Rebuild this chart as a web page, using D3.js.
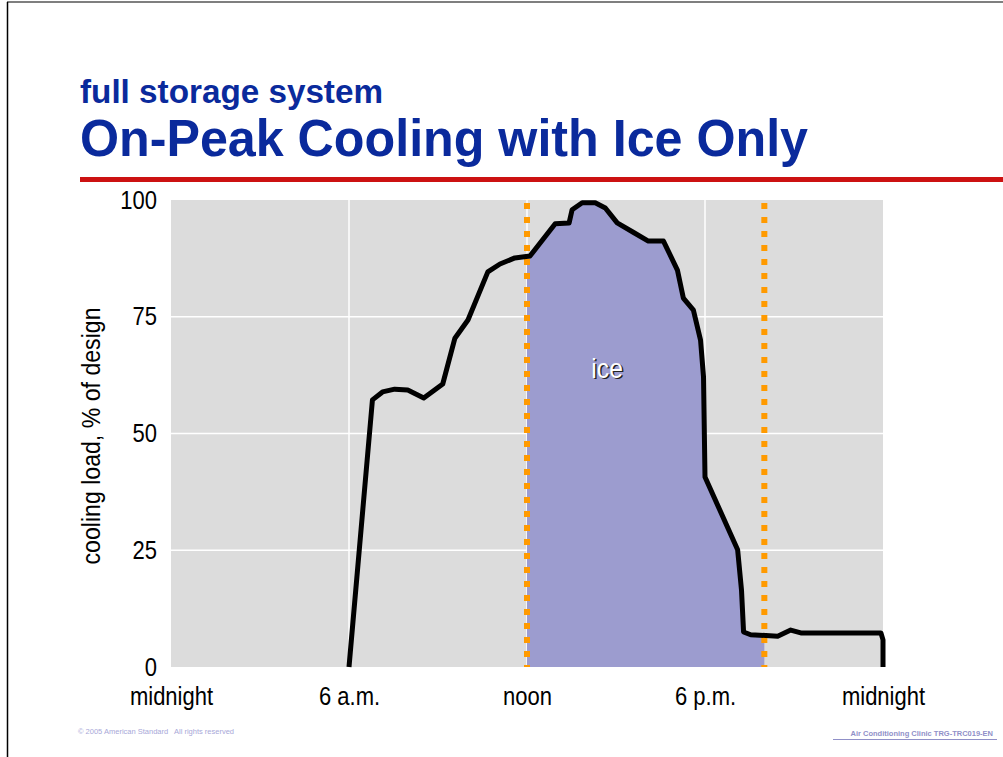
<!DOCTYPE html>
<html>
<head>
<meta charset="utf-8">
<script src="https://cdn.jsdelivr.net/npm/d3@7"></script>
<style>
  html, body { margin: 0; padding: 0; background: #fff; }
  svg { display: block; }
</style>
</head>
<body>
<svg id="chart" width="1003" height="757"></svg>
<script>
// ---- data ----
const hours = [6, 6.79, 7.13, 7.54, 7.98, 8.52, 9.16, 9.57, 10.01, 10.68, 11.09, 11.59, 12.1, 12.95, 13.42, 13.52, 13.86, 14.3, 14.64, 15.04, 15.58, 16.09, 16.6, 17.07, 17.27, 17.61, 17.85, 17.95, 18.0, 19.1, 19.23, 19.3, 19.54, 20.45, 20.89, 21.23, 23.93, 24.0, 24.0];
const load  = [0, 57.2, 58.9, 59.5, 59.3, 57.6, 60.6, 70.4, 74.3, 84.6, 86.3, 87.6, 88.0, 94.9, 95.1, 97.9, 99.4, 99.4, 98.3, 95.1, 93.1, 91.2, 91.2, 85.0, 79.0, 76.4, 70.0, 62.1, 40.7, 25.1, 16.5, 7.5, 6.9, 6.6, 7.9, 7.3, 7.3, 5.8, 0];
const xTickHours = [0, 6, 12, 18, 24];
const xTickLabels = ["midnight", "6 a.m.", "noon", "6 p.m.", "midnight"];
const yTicks = [0, 25, 50, 75, 100];
const iceWindow = [12, 20];
const iceLabel = { text: "ice", hour: 14.7, value: 64 };
const titleSub = "full storage system";
const titleMain = "On-Peak Cooling with Ice Only";
const yAxisTitle = "cooling load, % of design";
const footLeft = "© 2005 American Standard   All rights reserved";
const footRight = "Air Conditioning Clinic TRG-TRC019-EN";

// ---- layout ----
const svg = d3.select("#chart");
const plot = { left: 171, right: 883, top: 200, bottom: 667 };
const x = d3.scaleLinear().domain([0, 24]).range([plot.left, plot.right]);
const y = d3.scaleLinear().domain([0, 100]).range([plot.bottom, plot.top]);
const sans = "'Liberation Sans', Arial, Helvetica, sans-serif";
const blue = "#0a2a9c";
const condense = 0.88;

function narrowText(sel) {
  sel.each(function () {
    const len = this.getComputedTextLength();
    d3.select(this).attr("textLength", len * condense).attr("lengthAdjust", "spacingAndGlyphs");
  });
}

// page frame
svg.append("line").attr("x1", 7).attr("x2", 1003).attr("y1", 2).attr("y2", 2)
  .attr("stroke", "#555").attr("stroke-width", 1.5);
svg.append("line").attr("x1", 7.5).attr("x2", 7.5).attr("y1", 2).attr("y2", 757)
  .attr("stroke", "#000").attr("stroke-width", 1.5);

// titles
svg.append("text").attr("x", 80).attr("y", 103).text(titleSub)
  .attr("font-family", sans).attr("font-weight", "bold").attr("font-size", 33)
  .attr("textLength", 303).attr("lengthAdjust", "spacingAndGlyphs").attr("fill", blue);
svg.append("text").attr("x", 80).attr("y", 156).text(titleMain)
  .attr("font-family", sans).attr("font-weight", "bold").attr("font-size", 52)
  .attr("textLength", 728).attr("lengthAdjust", "spacingAndGlyphs").attr("fill", blue);

// red rule
svg.append("rect").attr("x", 80).attr("y", 177).attr("width", 923).attr("height", 5).attr("fill", "#cc1111");

// plot background
svg.append("rect").attr("x", plot.left).attr("y", plot.top)
  .attr("width", plot.right - plot.left).attr("height", plot.bottom - plot.top)
  .attr("fill", "#dcdcdc");

// gridlines
svg.append("g").selectAll("line").data(yTicks.filter(d => d > 0 && d < 100)).join("line")
  .attr("x1", plot.left).attr("x2", plot.right)
  .attr("y1", d => y(d)).attr("y2", d => y(d))
  .attr("stroke", "#fff").attr("stroke-width", 1.5);
svg.append("g").selectAll("line").data(xTickHours.filter(d => d > 0 && d < 24)).join("line")
  .attr("x1", d => x(d)).attr("x2", d => x(d))
  .attr("y1", plot.top).attr("y2", plot.bottom)
  .attr("stroke", "#fff").attr("stroke-width", 1.5);

// data points
const pts = hours.map((h, i) => [h, load[i]]);

// ice area clipped to ice window
svg.append("clipPath").attr("id", "iceclip").append("rect")
  .attr("x", x(iceWindow[0])).attr("y", plot.top - 10)
  .attr("width", x(iceWindow[1]) - x(iceWindow[0])).attr("height", plot.bottom - plot.top + 10);
const area = d3.area().x(d => x(d[0])).y0(y(0)).y1(d => y(d[1]));
svg.append("path").datum(pts).attr("d", area).attr("fill", "#9c9ccf").attr("clip-path", "url(#iceclip)");

// dotted window lines
svg.append("g").selectAll("line").data(iceWindow).join("line")
  .attr("x1", d => x(d)).attr("x2", d => x(d))
  .attr("y1", plot.top + 3).attr("y2", plot.bottom)
  .attr("stroke", "#ff9a00").attr("stroke-width", 6).attr("stroke-dasharray", "6,8");

// load curve
const line = d3.line().x(d => x(d[0])).y(d => y(d[1]));
svg.append("path").datum(pts).attr("d", line).attr("fill", "none")
  .attr("stroke", "#000").attr("stroke-width", 5).attr("stroke-linejoin", "round");

// ice label with shadow
const iceG = svg.append("g").attr("font-family", sans).attr("font-size", 28).attr("text-anchor", "middle");
iceG.append("text").attr("x", x(iceLabel.hour) + 1.5).attr("y", y(iceLabel.value) + 1.5).attr("dy", "0.35em")
  .attr("fill", "#222").text(iceLabel.text).call(narrowText);
iceG.append("text").attr("x", x(iceLabel.hour)).attr("y", y(iceLabel.value)).attr("dy", "0.35em")
  .attr("fill", "#fff").text(iceLabel.text).call(narrowText);

// axes
const yAxis = d3.axisLeft(y).tickValues(yTicks).tickSize(0).tickPadding(14);
const gy = svg.append("g").attr("transform", `translate(${plot.left},0)`).call(yAxis);
gy.select(".domain").remove();
gy.selectAll("text").attr("font-family", sans).attr("font-size", 25).attr("fill", "#000").call(narrowText);

const xAxis = d3.axisBottom(x).tickValues(xTickHours).tickFormat((d, i) => xTickLabels[i]).tickSize(0).tickPadding(20);
const gx = svg.append("g").attr("transform", `translate(0,${plot.bottom})`).call(xAxis);
gx.select(".domain").remove();
gx.selectAll("text").attr("font-family", sans).attr("font-size", 25).attr("fill", "#000").call(narrowText);

// y axis title
svg.append("text").attr("transform", `translate(100,436) rotate(-90)`)
  .attr("text-anchor", "middle").attr("font-family", sans).attr("font-size", 25)
  .attr("fill", "#000").text(yAxisTitle)
  .attr("textLength", 257).attr("lengthAdjust", "spacingAndGlyphs");

// footer
svg.append("text").attr("x", 78).attr("y", 734).text(footLeft)
  .attr("font-family", sans).attr("font-size", 7.5).attr("fill", "#a8a8d8")
  .attr("xml:space", "preserve").style("white-space", "pre");
svg.append("text").attr("x", 993).attr("y", 736).attr("text-anchor", "end").text(footRight)
  .attr("font-family", sans).attr("font-weight", "bold").attr("font-size", 7.5).attr("fill", "#9090c8");
svg.append("line").attr("x1", 833).attr("x2", 997).attr("y1", 739.5).attr("y2", 739.5)
  .attr("stroke", "#9090c8").attr("stroke-width", 1);
</script>
</body>
</html>
